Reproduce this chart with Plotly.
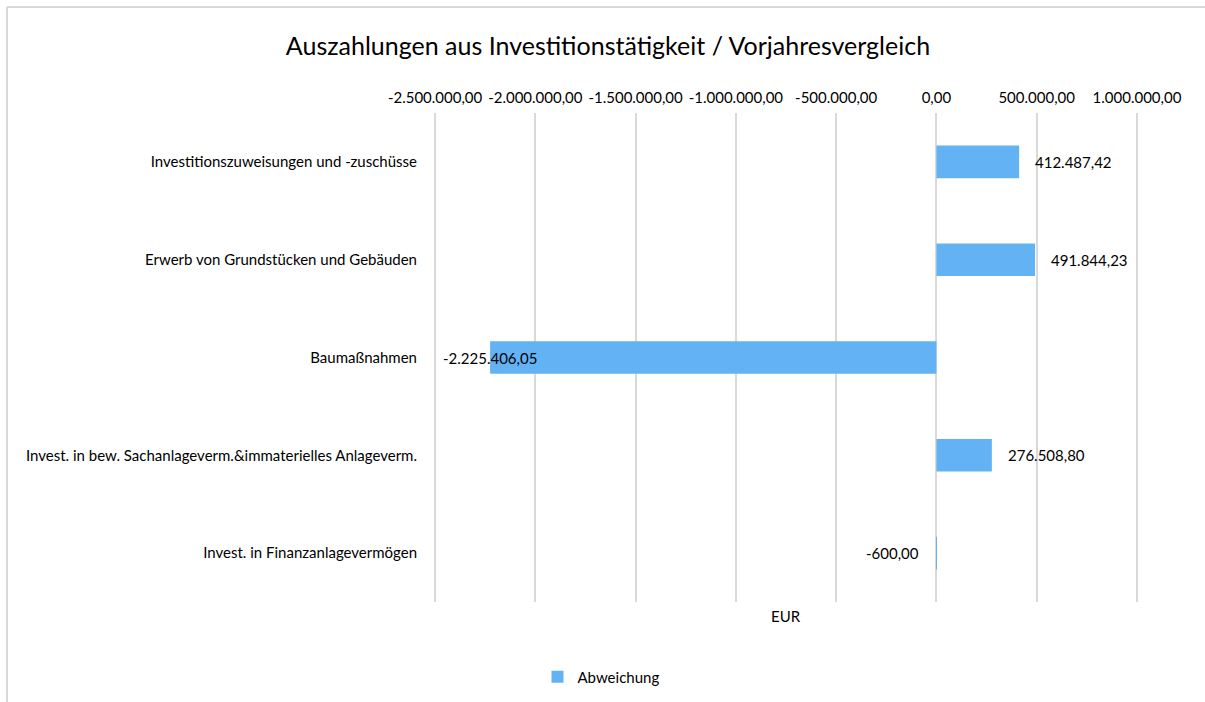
import plotly.graph_objects as go

categories = [
    "Investitionszuweisungen und -zuschüsse",
    "Erwerb von Grundstücken und Gebäuden",
    "Baumaßnahmen",
    "Invest. in bew. Sachanlageverm.&immaterielles Anlageverm.",
    "Invest. in Finanzanlagevermögen",
]
values = [412487.42, 491844.23, -2225406.05, 276508.80, -600.00]
series_name = "Abweichung"
tick_vals = [-2500000, -2000000, -1500000, -1000000, -500000, 0, 500000, 1000000]
tick_text = ["-2.500.000,00", "-2.000.000,00", "-1.500.000,00", "-1.000.000,00",
             "-500.000,00", "0,00", "500.000,00", "1.000.000,00"]
x_min, x_max = -2500000, 1000000

FONT = "Lato, Carlito, Calibri, sans-serif"
FS = 15
BAR_COLOR = "#62B2F4"
GRID = "#D9D9D9"


def de_fmt(v):
    s = f"{v:,.2f}"
    return s.replace(",", "X").replace(".", ",").replace("X", ".")


fig = go.Figure()
fig.add_trace(go.Bar(
    y=categories, x=values, orientation="h", name=series_name,
    marker=dict(color=BAR_COLOR, line=dict(width=0)),
    showlegend=True,
))

W, H = 1205, 702
L, R, T, B = 434, 67, 113, 100
pw, ph = W - L - R, H - T - B
pad = (x_max - x_min) * 0.0015

annotations = []
for c, v in zip(categories, values):
    if v >= 0:
        annotations.append(dict(x=v, y=c, xref="x", yref="y", text=de_fmt(v),
                                showarrow=False, xanchor="left", xshift=14,
                                font=dict(family=FONT, size=FS, color="#000")))
    elif v - 700000 < x_min:
        annotations.append(dict(x=x_min, y=c, xref="x", yref="y", text=de_fmt(v),
                                showarrow=False, xanchor="left", xshift=6,
                                font=dict(family=FONT, size=FS, color="#000")))
    else:
        annotations.append(dict(x=v, y=c, xref="x", yref="y", text=de_fmt(v),
                                showarrow=False, xanchor="right", xshift=-15,
                                font=dict(family=FONT, size=FS, color="#000")))

annotations.append(dict(x=0.5, y=(602 - 616) / ph, xref="paper", yref="paper", text="EUR",
                        showarrow=False, xanchor="center", yanchor="middle",
                        font=dict(family=FONT, size=FS, color="#000")))

bx = (7 - L) / pw
by = (602 - 7) / ph
shapes = [
    dict(type="line", xref="paper", yref="paper", x0=bx, x1=(1300 - L) / pw, y0=by, y1=by,
         line=dict(color="#D9D9D9", width=2), layer="below"),
    dict(type="line", xref="paper", yref="paper", x0=bx, x1=bx, y0=by, y1=(602 - 800) / ph,
         line=dict(color="#D9D9D9", width=2), layer="below"),
]

fig.update_layout(
    width=W, height=H,
    margin=dict(l=L, r=R, t=T, b=B, pad=0, autoexpand=False),
    paper_bgcolor="white", plot_bgcolor="white",
    font=dict(family=FONT, size=FS, color="#000"),
    title=dict(text="Auszahlungen aus Investitionstätigkeit / Vorjahresvergleich",
               x=608 / W, xanchor="center", y=1 - 46 / H, yanchor="middle",
               font=dict(family=FONT, size=25, color="#000")),
    bargap=0.667,
    xaxis=dict(range=[x_min - pad, x_max + pad], side="top", tickvals=tick_vals,
               ticktext=tick_text,
               showgrid=True, gridcolor=GRID, gridwidth=1.5, zeroline=False,
               showline=False, ticks="", ticklabelstandoff=6,
               tickfont=dict(family=FONT, size=FS, color="#000")),
    yaxis=dict(categoryorder="array", categoryarray=categories, autorange="reversed",
               showgrid=False, zeroline=False, showline=False, ticks="",
               ticklabelstandoff=16,
               tickfont=dict(family=FONT, size=FS, color="#000")),
    legend=dict(orientation="h", x=0.5 - (786 - 601) / pw, xanchor="center",
                y=(602 - 677) / ph, yanchor="middle",
                font=dict(family=FONT, size=FS, color="#000"),
                itemwidth=30),
    annotations=annotations,
    shapes=shapes,
    showlegend=True,
)

fig.write_html("out.html", config={"displayModeBar": False})
